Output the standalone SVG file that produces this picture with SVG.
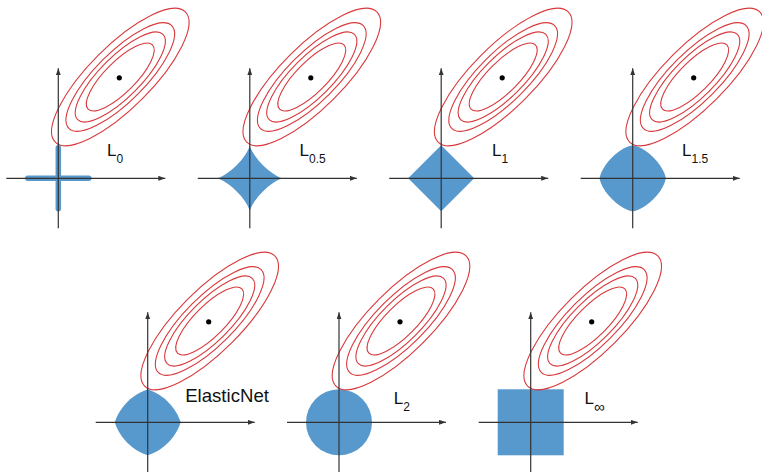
<svg xmlns="http://www.w3.org/2000/svg" xmlns:xlink="http://www.w3.org/1999/xlink" width="762" height="472" viewBox="0 0 762 472">
<style>
.ball{fill:#5798cd;stroke:none}
.bar{stroke:#5798cd;stroke-width:5.5;stroke-linecap:round;fill:none}
.axis{stroke:#333;stroke-width:1.2;fill:none}
.ell{fill:none;stroke:#d8393c;stroke-width:1.1}
.dot{fill:#000}
.lbl{font-family:"Liberation Sans",Arial,sans-serif;font-size:17px;fill:#111}
.sub{font-size:12px}
.en{font-family:"Liberation Sans",Arial,sans-serif;font-size:18.6px;fill:#111}
</style>
<defs>
<marker id="arr" markerUnits="userSpaceOnUse" markerWidth="7" markerHeight="5" refX="7" refY="2.5" orient="auto">
<path d="M0,0 L7,2.5 L0,5 Z" fill="#333"/>
</marker>
<g id="contours">
<g transform="translate(62,-101.3) rotate(-45)">
<ellipse class="ell" rx="92" ry="31"/>
<ellipse class="ell" rx="72.7" ry="24.5"/>
<ellipse class="ell" rx="60.3" ry="20.3"/>
<ellipse class="ell" rx="45.5" ry="15.3"/>
</g>
<circle class="dot" cx="61" cy="-100.5" r="2.6"/>
</g>
<g id="axes">
<line class="axis" x1="-52" y1="0" x2="107" y2="0" marker-end="url(#arr)"/>
<line class="axis" x1="0" y1="50" x2="0" y2="-110" marker-end="url(#arr)"/>
</g>
</defs>

<g id="panel-L0" transform="translate(58.3,178.3)">
<line class="bar" x1="-30.5" y1="0" x2="30.5" y2="0"/>
<line class="bar" x1="0" y1="-30.5" x2="0" y2="30.5"/>
<use xlink:href="#contours" href="#contours"/>
<use xlink:href="#axes" href="#axes"/>
</g>
<g id="label-L0"><text class="lbl" x="107.1" y="156">L<tspan class="sub" dy="7">0</tspan></text></g>

<g id="panel-L05" transform="translate(249.8,178.3)">
<polygon class="ball" points="33,0 32.81,-0.02 32.25,-0.14 30.09,-0.9 26.72,-2.55 22.49,-5.2 17.8,-8.78 13.1,-13.1 8.78,-17.8 5.2,-22.49 2.55,-26.72 0.9,-30.09 0.14,-32.25 0.02,-32.81 0,-33 -0.02,-32.81 -0.14,-32.25 -0.9,-30.09 -2.55,-26.72 -5.2,-22.49 -8.78,-17.8 -13.1,-13.1 -17.8,-8.78 -22.49,-5.2 -26.72,-2.55 -30.09,-0.9 -32.25,-0.14 -32.81,-0.02 -33,0 -32.81,0.02 -32.25,0.14 -30.09,0.9 -26.72,2.55 -22.49,5.2 -17.8,8.78 -13.1,13.1 -8.78,17.8 -5.2,22.49 -2.55,26.72 -0.9,30.09 -0.14,32.25 -0.02,32.81 0,33 0.02,32.81 0.14,32.25 0.9,30.09 2.55,26.72 5.2,22.49 8.78,17.8 13.1,13.1 17.8,8.78 22.49,5.2 26.72,2.55 30.09,0.9 32.25,0.14 32.81,0.02"/>
<use xlink:href="#contours" href="#contours"/>
<use xlink:href="#axes" href="#axes"/>
</g>
<g id="label-L05"><text class="lbl" x="299.5" y="156">L<tspan class="sub" dy="7">0.5</tspan></text></g>

<g id="panel-L1" transform="translate(441.2,178.3)">
<path class="ball" d="M33,0 L0,-33 L-33,0 L0,33 Z"/>
<use xlink:href="#contours" href="#contours"/>
<use xlink:href="#axes" href="#axes"/>
</g>
<g id="label-L1"><text class="lbl" x="492.1" y="156">L<tspan class="sub" dy="7">1</tspan></text></g>

<g id="panel-L15" transform="translate(632.7,178.3)">
<polygon class="ball" points="33,0 32.91,-0.87 32.62,-2.19 31.51,-5.44 29.69,-9.17 27.24,-13.1 24.24,-17.03 20.79,-20.79 17.03,-24.24 13.1,-27.24 9.17,-29.69 5.44,-31.51 2.19,-32.62 0.87,-32.91 0,-33 -0.87,-32.91 -2.19,-32.62 -5.44,-31.51 -9.17,-29.69 -13.1,-27.24 -17.03,-24.24 -20.79,-20.79 -24.24,-17.03 -27.24,-13.1 -29.69,-9.17 -31.51,-5.44 -32.62,-2.19 -32.91,-0.87 -33,0 -32.91,0.87 -32.62,2.19 -31.51,5.44 -29.69,9.17 -27.24,13.1 -24.24,17.03 -20.79,20.79 -17.03,24.24 -13.1,27.24 -9.17,29.69 -5.44,31.51 -2.19,32.62 -0.87,32.91 0,33 0.87,32.91 2.19,32.62 5.44,31.51 9.17,29.69 13.1,27.24 17.03,24.24 20.79,20.79 24.24,17.03 27.24,13.1 29.69,9.17 31.51,5.44 32.62,2.19 32.91,0.87"/>
<use xlink:href="#contours" href="#contours"/>
<use xlink:href="#axes" href="#axes"/>
</g>
<g id="label-L15"><text class="lbl" x="682.1" y="156">L<tspan class="sub" dy="7">1.5</tspan></text></g>

<g id="panel-EN" transform="translate(147.7,422.3)">
<polygon class="ball" points="33,0 31.42,-4.14 29.6,-7.93 27.58,-11.42 25.36,-14.64 22.97,-17.63 20.39,-20.39 17.63,-22.97 14.64,-25.36 11.42,-27.58 7.93,-29.6 4.14,-31.42 0,-33 -4.14,-31.42 -7.93,-29.6 -11.42,-27.58 -14.64,-25.36 -17.63,-22.97 -20.39,-20.39 -22.97,-17.63 -25.36,-14.64 -27.58,-11.42 -29.6,-7.93 -31.42,-4.14 -33,0 -31.42,4.14 -29.6,7.93 -27.58,11.42 -25.36,14.64 -22.97,17.63 -20.39,20.39 -17.63,22.97 -14.64,25.36 -11.42,27.58 -7.93,29.6 -4.14,31.42 0,33 4.14,31.42 7.93,29.6 11.42,27.58 14.64,25.36 17.63,22.97 20.39,20.39 22.97,17.63 25.36,14.64 27.58,11.42 29.6,7.93 31.42,4.14"/>
<use xlink:href="#contours" href="#contours"/>
<use xlink:href="#axes" href="#axes"/>
</g>
<g id="label-EN"><text class="en" x="185.2" y="401.7">ElasticNet</text></g>

<g id="panel-L2" transform="translate(339,422.3)">
<circle class="ball" cx="0" cy="0" r="33"/>
<use xlink:href="#contours" href="#contours"/>
<use xlink:href="#axes" href="#axes"/>
</g>
<g id="label-L2"><text class="lbl" x="393.8" y="403.5">L<tspan class="sub" dy="7">2</tspan></text></g>

<g id="panel-Linf" transform="translate(530.7,422.3)">
<rect class="ball" x="-33" y="-33" width="66" height="66"/>
<use xlink:href="#contours" href="#contours"/>
<use xlink:href="#axes" href="#axes"/>
</g>
<g id="label-Linf"><text class="lbl" x="584.5" y="403.5">L<tspan class="sub" dy="8" style="font-size:15px">∞</tspan></text></g>
</svg>
